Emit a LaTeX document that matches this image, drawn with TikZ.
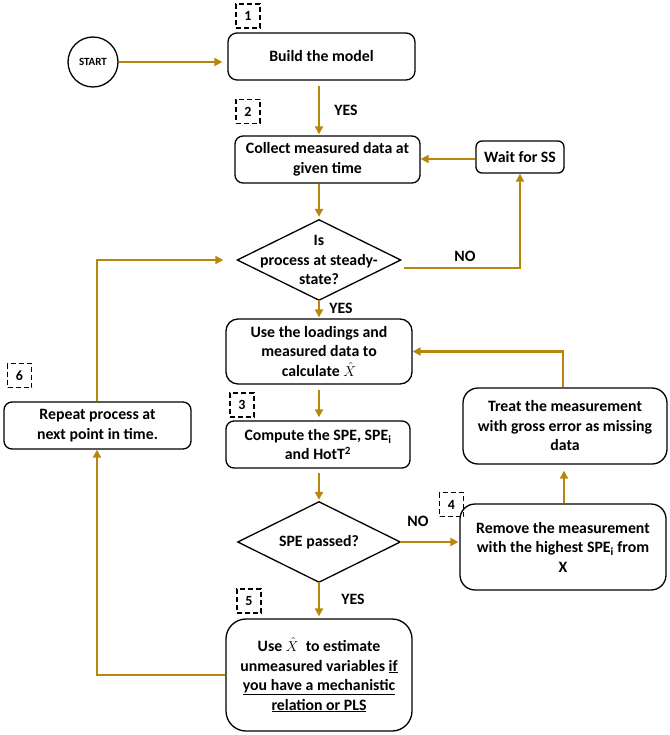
\documentclass[tikz,border=0pt]{standalone}
\usepackage{fontspec}
\setmainfont{Carlito}
\usetikzlibrary{arrows.meta,calc}
\definecolor{gold}{RGB}{184,134,11}
\newcommand{\xhat}{$\hat{X}$}
\begin{document}
\begin{tikzpicture}[x=1pt,y=-1pt,
  font=\fontsize{15.8}{19.5}\selectfont\bfseries,
  box/.style={draw=black,line width=1.3pt,align=center,inner sep=0pt},
  numbox/.style={draw=black,line width=1.1pt,dash pattern=on 5pt off 3pt,minimum width=24pt,minimum height=24pt,inner sep=0pt,font=\fontsize{14}{16}\selectfont\bfseries},
  conn/.style={draw=gold,line width=2.2pt,-{Triangle[length=8pt,width=8pt]}},
  lbl/.style={inner sep=0pt}]
\useasboundingbox (0,0) rectangle (669,735);
\coordinate (col) at (319,0);

% nodes
\node[box,circle,minimum size=50pt,font=\fontsize{11}{12}\selectfont\bfseries] (start) at (93,62) {START};
\node[box,rounded corners=9pt,minimum width=187pt,minimum height=47pt] (b1) at (321.5,56.5) {Build the model};
\node[box,rounded corners=8pt,minimum width=185pt,minimum height=47pt] (b2) at (327.5,159.5) {Collect measured data at\\given time};
\node[box,rounded corners=6pt,minimum width=88pt,minimum height=32pt] (wait) at (520,157) {Wait for SS};
\node[inner sep=0pt,minimum width=163pt,minimum height=80pt,align=center] (d1) at (319,260) {Is\\process at steady-\\state?};
\draw[black,line width=1.3pt] (d1.north) -- (d1.east) -- (d1.south) -- (d1.west) -- cycle;
\node[box,rounded corners=12pt,minimum width=186pt,minimum height=65pt] (b3) at (319,351.5) {Use the loadings and\\measured data to\\calculate \xhat};
\node[box,rounded corners=8pt,minimum width=184pt,minimum height=47pt] (b4) at (318,444.5) {Compute the SPE, SPE\textsubscript{i}\\and HotT\textsuperscript{2}};
\node[inner sep=0pt,minimum width=162pt,minimum height=80pt,align=center] (d2) at (319,542) {SPE passed?};
\draw[black,line width=1.3pt] (d2.north) -- (d2.east) -- (d2.south) -- (d2.west) -- cycle;
\node[box,rounded corners=20pt,minimum width=186pt,minimum height=112pt] (b5) at (319,675) {Use \xhat\ \ to estimate\\unmeasured variables \underline{if}\\\underline{you have a mechanistic}\\\underline{relation or PLS}};
\node[box,rounded corners=15pt,minimum width=206pt,minimum height=86pt] (remove) at (563,547) {Remove the measurement\\with the highest SPE\textsubscript{i} from\\X};
\node[box,rounded corners=15pt,minimum width=204pt,minimum height=76pt] (treat) at (565,426) {Treat the measurement\\with gross error as missing\\data};
\node[box,rounded corners=8pt,minimum width=187pt,minimum height=47pt] (repeat) at (97.5,425.5) {Repeat process at\\next point in time.};

% number boxes
\node[numbox] (n1) at (248,16) {1};
\node[numbox] (n2) at (248,111.5) {2};
\node[numbox] (n3) at (242,405) {3};
\node[numbox] (n4) at (451.5,504.5) {4};
\node[numbox] (n5) at (249,601) {5};
\node[numbox] (n6) at (19.5,375.5) {6};

% connectors
\draw[conn,shorten >=5pt] (start.east) -- (start.east -| b1.west);
\draw[conn,shorten <=5pt,shorten >=1pt] (b1.south -| col) -- (b2.north -| col);
\node[lbl] (yes1) at (346,110) {YES};
\draw[conn] (wait.west |- 0,159) -- (b2.east |- 0,159);
\draw[conn,shorten >=3pt] (b2.south -| col) -- (d1.north);
\draw[conn] ([xshift=3pt,yshift=-8pt]d1.east) -| (wait.south);
\node[lbl] (no1) at (465,256) {NO};
\draw[conn,shorten >=1pt] (d1.south) -- (b3.north -| col);
\node[lbl] (yes2) at (341,308) {YES};
\draw[conn,shorten <=5pt,shorten >=3pt] (b3.south -| col) -- (b4.north -| col);
\draw[conn,shorten <=4pt,shorten >=2pt] (b4.south -| col) -- (d2.north);
\draw[conn,shorten >=1pt] (d2.east) -- (d2.east -| remove.west);
\node[lbl] (no2) at (418,521) {NO};
\draw[conn,shorten >=2pt] (d2.south) -- (b5.north -| col);
\node[lbl] (yes3) at (353,599) {YES};
\draw[conn,shorten >=6pt] (remove.north -| 564,0) -- (treat.south -| 564,0);
\draw[conn] (treat.north -| 563,0) |- (b3.east);
\draw[conn] (b5.west |- 0,675) -| (repeat.south -| 97,0);
\draw[conn,shorten >=14pt] (repeat.north -| 97,0) |- (d1.west);
\end{tikzpicture}
\end{document}
